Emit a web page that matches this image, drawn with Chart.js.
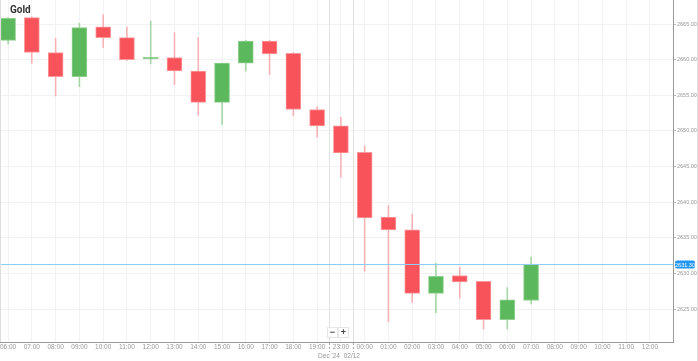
<!DOCTYPE html>
<html>
<head>
<meta charset="utf-8">
<script src="https://cdn.jsdelivr.net/npm/chart.js@4.4.1/dist/chart.umd.min.js"></script>
<style>
html,body{margin:0;padding:0;background:#fff;}
#wrap{width:698px;height:361px;position:relative;}
</style>
</head>
<body>
<div id="wrap"><canvas id="c" width="698" height="361"></canvas></div>
<script>
const title = 'Gold';
const xLabels = ['06:00','07:00','08:00','09:00','10:00','11:00','12:00','13:00','14:00','15:00','16:00','17:00','18:00','19:00','23:00','00:00','01:00','02:00','03:00','04:00','05:00','06:00','07:00','08:00','09:00','10:00','11:00','12:00'];
const openV  = [2662.7,2665.9,2661.0,2657.6,2664.6,2663.1,2660.1,2660.3,2658.4,2654.0,2659.5,2662.6,2660.9,2653.0,2650.7,2647.0,2637.9,2636.1,2627.2,2629.7,2628.9,2623.5,2626.2];
const highV  = [2665.9,2666.0,2663.0,2665.1,2666.3,2664.6,2665.4,2663.8,2663.1,2659.5,2662.7,2662.7,2661.0,2653.4,2651.9,2647.9,2639.5,2638.3,2631.4,2630.9,2628.9,2628.0,2632.3];
const lowV   = [2662.2,2659.5,2654.9,2656.2,2661.7,2659.9,2659.4,2656.5,2652.2,2650.9,2658.4,2657.9,2652.1,2649.1,2643.5,2630.3,2623.2,2625.9,2624.5,2626.5,2622.2,2622.2,2625.7];
const closeV = [2665.8,2661.0,2657.6,2664.5,2663.1,2660.0,2660.3,2658.4,2654.0,2659.5,2662.6,2660.8,2653.0,2650.7,2646.9,2637.8,2636.1,2627.2,2629.6,2628.8,2623.5,2626.3,2631.3];
const yTicks = [2625,2630,2635,2640,2645,2650,2655,2660,2665];
const currentPrice = 2631.30;
const dateLabels = ["Dec '24", '02/12'];

const UP = '#5cb85c', DOWN = '#f8535a';
const UP_W = 'rgba(92,184,92,0.5)', DOWN_W = 'rgba(248,83,90,0.4)';
const isUp = openV.map((o,i)=>closeV[i]>=o);

const bodies = openV.map((o,i)=>({x:i, y:[o, closeV[i]]}));
const wicks = openV.map((o,i)=>({x:i, y:[lowV[i], highV[i]]}));

const overlay = {
  id:'overlay',
  beforeDatasetsDraw(chart){
    const {ctx, chartArea:a, scales:{x}} = chart;
    ctx.save();
    ctx.strokeStyle = '#e2e2e2';
    ctx.lineWidth = 1;
    [13.5,14.5].forEach(v=>{
      const px = Math.round(x.getPixelForValue(v))+0.5;
      ctx.beginPath(); ctx.moveTo(px,a.top); ctx.lineTo(px,a.bottom); ctx.stroke();
    });
    ctx.restore();
  },
  afterDraw(chart){
    const {ctx, chartArea:a, scales:{x,y}} = chart;
    ctx.save();
    const py = Math.round(y.getPixelForValue(currentPrice))+0.5;
    ctx.strokeStyle = '#8fcdf7';
    ctx.lineWidth = 1;
    ctx.beginPath(); ctx.moveTo(a.left,py); ctx.lineTo(a.right,py); ctx.stroke();
    ctx.fillStyle = '#2196f3';
    const lx = a.right+2, lw = 20, lh = 8;
    ctx.beginPath();
    if (ctx.roundRect) ctx.roundRect(lx, py-lh/2, lw, lh, 2); else ctx.rect(lx,py-lh/2,lw,lh);
    ctx.fill();
    ctx.fillStyle = '#fff';
    ctx.font = '5.5px "Liberation Sans", Arial, sans-serif';
    ctx.textAlign = 'center'; ctx.textBaseline = 'middle';
    ctx.fillText(currentPrice.toFixed(2), lx+lw/2, py+0.5);
    ctx.fillStyle = '#333';
    ctx.font = 'bold 10px Roboto, "Liberation Sans", sans-serif';
    ctx.textAlign = 'left';
    ctx.fillText(title, 10, 10);
    ctx.strokeStyle = '#aaa';
    ctx.setLineDash([2,2]);
    [13.5,14.5].forEach(v=>{
      const px = Math.round(x.getPixelForValue(v))+0.5;
      ctx.beginPath(); ctx.moveTo(px,a.bottom+1); ctx.lineTo(px,a.bottom+10); ctx.stroke();
    });
    ctx.setLineDash([]);
    ctx.fillStyle = '#999';
    ctx.font = '6.5px "Liberation Sans", Arial, sans-serif';
    ctx.textAlign = 'center';
    ctx.fillText(dateLabels[0], x.getPixelForValue(13.5), a.bottom+14);
    ctx.fillText(dateLabels[1], x.getPixelForValue(14.5)-1, a.bottom+14);
    const bx = [327,338];
    ['−','+'].forEach((t,i)=>{
      ctx.fillStyle = '#fff';
      ctx.strokeStyle = '#e6e6e6';
      ctx.fillRect(bx[i],327,10,10);
      ctx.strokeRect(bx[i]+0.5,327.5,10,10);
      ctx.fillStyle = '#444';
      ctx.font = 'bold 9px "Liberation Sans", Arial, sans-serif';
      ctx.textBaseline = 'middle';
      ctx.fillText(t, bx[i]+5.5, 332.5);
    });
    ctx.strokeStyle = '#ddd';
    ctx.beginPath(); ctx.moveTo(697.5,0); ctx.lineTo(697.5,361); ctx.stroke();
    ctx.beginPath(); ctx.moveTo(0.5,a.top); ctx.lineTo(0.5,a.bottom); ctx.stroke();
    ctx.restore();
  }
};

new Chart(document.getElementById('c'), {
  type:'bar',
  data:{
    datasets:[
      {data:wicks, grouped:false, barThickness:1, backgroundColor:isUp.map(u=>u?UP_W:DOWN_W), borderWidth:0, order:2},
      {data:bodies, grouped:false, barThickness:15, backgroundColor:isUp.map(u=>u?UP:DOWN), borderColor:isUp.map(u=>u?'#8fd08f':'#fb9a9d'), borderWidth:1, borderSkipped:false, minBarLength:1.5, order:1}
    ]
  },
  plugins:[overlay],
  options:{
    responsive:false, animation:false,
    layout:{padding:0},
    plugins:{legend:{display:false}, tooltip:{enabled:false}},
    scales:{
      x:{
        type:'linear', min:-0.34, max:27.97, offset:false,
        afterBuildTicks(s){ s.ticks = xLabels.map((_,i)=>({value:i})); },
        afterFit(s){ s.height = 19; s.paddingLeft = 0; s.paddingRight = 0; },
        ticks:{ autoSkip:false, maxRotation:0, padding:1, color:'#999', font:{size:6.5, family:'"Liberation Sans", Arial, sans-serif'}, callback:(v)=>xLabels[v] },
        grid:{ color:'#f2f2f2', drawTicks:false, offset:false },
        border:{ color:'#9a9a9a', width:1 }
      },
      y:{
        position:'right', min:2620.37, max:2668.37,
        afterBuildTicks(s){ s.ticks = yTicks.map(v=>({value:v})); },
        afterFit(s){ s.width = 25; s.paddingTop = 0; s.paddingBottom = 0; },
        ticks:{ padding:1, color:'#999', font:{size:5.5, family:'"Liberation Sans", Arial, sans-serif'}, callback:(v)=>Number(v).toFixed(2) },
        grid:{ color:'#f2f2f2', tickLength:3, tickColor:'#bbb' },
        border:{ color:'#9a9a9a', width:1 }
      }
    }
  }
});
</script>
</body>
</html>
